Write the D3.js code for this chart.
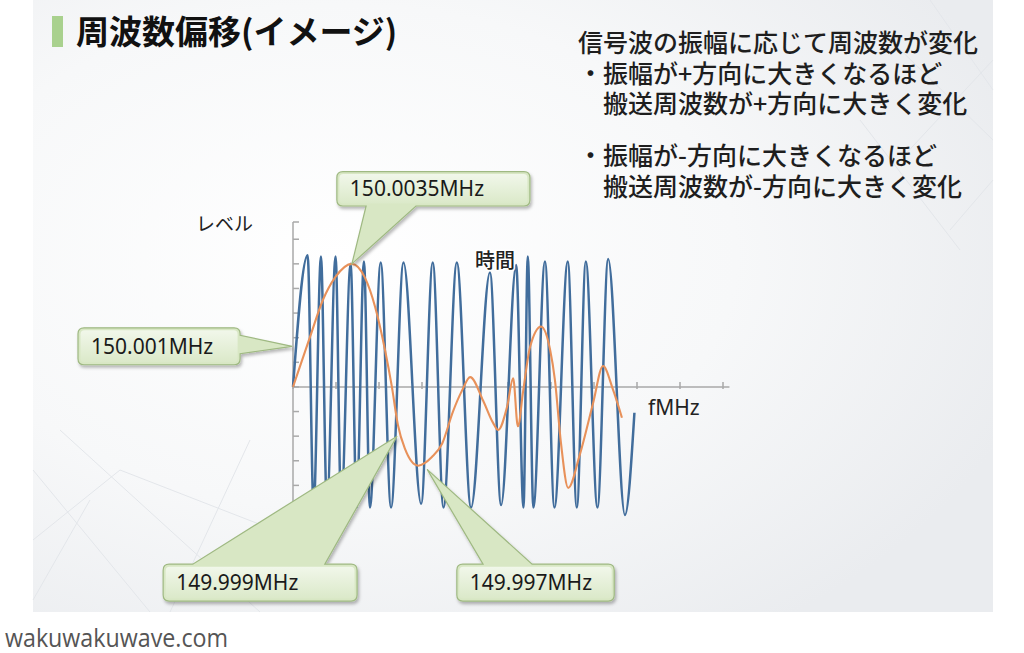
<!DOCTYPE html>
<html><head><meta charset="utf-8">
<script src="https://cdn.jsdelivr.net/npm/d3@7"></script>
<style>html,body{margin:0;padding:0;background:#fff;}svg{display:block}</style>
</head><body>
<svg id="c" width="1024" height="653"></svg>
<script>
// ---------- data ----------
const titleText = "周波数偏移(イメージ)";
const noteLines = [
  "信号波の振幅に応じて周波数が変化",
  "・振幅が+方向に大きくなるほど",
  "搬送周波数が+方向に大きく変化",
  "・振幅が-方向に大きくなるほど",
  "搬送周波数が-方向に大きく変化"
];
const yAxisTitle = "レベル";
const timeLabel = "時間";
const xAxisTitle = "fMHz";
const watermark = "wakuwakuwave.com";

// carrier (FM wave) extrema: time and level
const blueT = [0, 0.34, 0.48, 0.65, 0.79, 0.99, 1.12, 1.34, 1.48, 1.65, 1.79, 2.04, 2.28, 2.57, 2.98, 3.25,
               3.50, 3.81, 4.14, 4.58, 4.84, 5.19, 5.36, 5.46, 5.59, 5.86, 6.08, 6.39, 6.60, 6.81, 7.08, 7.33, 7.72, 7.94];
const blueV = [0, 1.07, -0.98, 1.06, -0.98, 1.06, -0.98, 1.00, -0.98, 1.02, -0.98, 1.01, -0.98, 1.01, -0.95, 1.01,
               -0.98, 1.01, -0.98, 0.93, -0.96, 0.99, -0.98, 1.06, -0.98, 1.02, -0.98, 1.02, -0.98, 1.02, -0.98, 1.04, -1.04, -0.21];

// modulating signal
const orangeT = [0, 0.40, 0.70, 0.98, 1.37, 1.67, 1.91, 2.14, 2.30, 2.44, 2.60, 2.91, 3.23, 3.47, 3.72, 3.93, 4.12,
                 4.42, 4.65, 4.77, 4.98, 5.12, 5.23, 5.35, 5.51, 5.77, 5.98, 6.09, 6.23, 6.40, 6.67, 6.98, 7.21, 7.44, 7.65];
const orangeV = [0, 0.41, 0.71, 0.89, 1.00, 0.89, 0.65, 0.30, 0.00, -0.31, -0.50, -0.64, -0.57, -0.46, -0.20, -0.03, 0.08,
                 -0.11, -0.29, -0.35, -0.16, 0.07, -0.32, -0.04, 0.32, 0.49, 0.30, 0.06, -0.45, -0.82, -0.55, -0.13, 0.17, -0.02, -0.25];

const xTicks = [0, 1, 2, 3, 4, 5, 6, 7, 8, 9, 10];
const yTicks = [-1, -0.8, -0.6, -0.4, -0.2, 0, 0.2, 0.4, 0.6, 0.8, 1.0, 1.2, 1.34];

const calloutLabels = ["150.0035MHz", "150.001MHz", "149.999MHz", "149.997MHz"];

// ---------- layout ----------
const svg = d3.select("#c");
const x = d3.scaleLinear().domain([0, 10]).range([293, 723]);
const y = d3.scaleLinear().domain([-1, 1.34]).range([510, 222]);

// callout geometry expressed in chart units
const calloutLayout = [
  {box:[1.02, 1.75, 5.51, 1.47], side:"bottom", base:[1.70, 2.86], tip:[1.37, 1.00], tx:13},
  {box:[-5.0, 0.48, -1.23, 0.18], side:"right", base:[0.42, 0.27], tip:[-0.02, 0.33], tx:13},
  {box:[-3.02, -1.44, 1.49, -1.74], side:"top", base:[-2.33, 0.74], tip:[2.42, -0.40], tx:13},
  {box:[3.81, -1.44, 7.47, -1.74], side:"top", base:[4.42, 5.56], tip:[3.12, -0.67], tx:13}
];

const defs = svg.append("defs");
const bg = defs.append("radialGradient").attr("id","bg").attr("cx","0.32").attr("cy","0.42").attr("r","0.75");
bg.append("stop").attr("offset","0").attr("stop-color","#ffffff");
bg.append("stop").attr("offset","0.55").attr("stop-color","#f7f8f9");
bg.append("stop").attr("offset","1").attr("stop-color","#eaecef");
const cg = defs.append("linearGradient").attr("id","cg").attr("x1",0).attr("y1",0).attr("x2",0).attr("y2",1);
cg.append("stop").attr("offset","0").attr("stop-color","#f1f7ea");
cg.append("stop").attr("offset","1").attr("stop-color","#dbe9c9");
const sh = defs.append("filter").attr("id","sh").attr("x","-20%").attr("y","-20%").attr("width","140%").attr("height","140%");
sh.append("feDropShadow").attr("dx",1.5).attr("dy",2.5).attr("stdDeviation",1.8).attr("flood-color","#000").attr("flood-opacity",0.28);

// slide background
svg.append("rect").attr("x",33).attr("y",0).attr("width",960).attr("height",612).attr("fill","url(#bg)");

// faint decorative lines
const deco = [
  [33,470,150,612],[60,430,260,612],[33,540,120,470],[120,470,300,540],[170,612,250,440],[33,600,90,500],
  [880,30,993,140],[930,0,993,90],[900,160,993,60],[950,230,993,180],[860,120,960,250]
];
svg.append("g").selectAll("line").data(deco).join("line")
  .attr("x1",d=>d[0]).attr("y1",d=>d[1]).attr("x2",d=>d[2]).attr("y2",d=>d[3])
  .attr("stroke","#e3e6ea").attr("stroke-width",1);

// title
svg.append("rect").attr("x",52).attr("y",16).attr("width",11).attr("height",31).attr("fill","#a9d18e");
svg.append("text").attr("x",76).attr("y",44).text(titleText)
  .attr("font-family","'Noto Sans CJK JP'").attr("font-weight",700).attr("font-size",33).attr("fill","#111");

// notes (one text block)
const noteX = [578, 578, 603, 578, 603];
const noteY = [52, 83, 113, 165, 196];
svg.append("text")
  .attr("font-family","'Noto Sans CJK JP'").attr("font-weight",500).attr("font-size",25).attr("fill","#1e1e1e")
  .selectAll("tspan").data(noteLines).join("tspan")
  .attr("x",(d,i)=>noteX[i]).attr("y",(d,i)=>noteY[i]).text(d=>d);

// axes
const ax = svg.append("g").attr("stroke","#a9a9a9").attr("stroke-width",1.5).attr("fill","none");
ax.append("line").attr("x1",x(0)).attr("x2",x(0)).attr("y1",y(-1)).attr("y2",y(1.34));
ax.selectAll(".yt").data(yTicks).join("line").attr("class","yt")
  .attr("x1",x(0)).attr("x2",x(0)+6).attr("y1",d=>y(d)).attr("y2",d=>y(d));
ax.append("line").attr("x1",x(0)).attr("x2",x(10.15)).attr("y1",y(0)).attr("y2",y(0));
ax.selectAll(".xt").data(xTicks).join("line").attr("class","xt")
  .attr("x1",d=>x(d)).attr("x2",d=>x(d)).attr("y1",y(0)-5).attr("y2",y(0)+2);

// series
const line = d3.line().x(d=>x(d[0])).y(d=>y(d[1])).curve(d3.curveMonotoneX);
svg.append("path").attr("d", line(blueT.map((t,i)=>[t,blueV[i]])))
  .attr("fill","none").attr("stroke","#416d9c").attr("stroke-width",2.5).attr("stroke-linejoin","round");
svg.append("path").attr("d", line(orangeT.map((t,i)=>[t,orangeV[i]])))
  .attr("fill","none").attr("stroke","#e8915a").attr("stroke-width",2.1).attr("stroke-linejoin","round");

// axis labels
svg.append("text").attr("x",196).attr("y",231).text(yAxisTitle)
  .attr("font-family","'Noto Sans CJK JP'").attr("font-size",19).attr("fill","#222");
svg.append("text").attr("x",475).attr("y",268).text(timeLabel)
  .attr("font-family","'Noto Sans CJK JP'").attr("font-weight",500).attr("font-size",20).attr("fill","#222")
  .attr("stroke","#fff").attr("stroke-width",3).attr("paint-order","stroke");
svg.append("text").attr("x",648).attr("y",415).text(xAxisTitle)
  .attr("font-family","'Noto Sans'").attr("font-size",21).attr("fill","#222");

// callouts
function calloutPath(x0,y0,x1,y1,r,side,a,b,tx,ty){
  const p = d3.path();
  p.moveTo(x0+r,y0);
  if(side==="top"){ p.lineTo(Math.min(a,b),y0); p.lineTo(tx,ty); p.lineTo(Math.max(a,b),y0); }
  p.lineTo(x1-r,y0); p.quadraticCurveTo(x1,y0,x1,y0+r);
  if(side==="right"){ p.lineTo(x1,Math.min(a,b)); p.lineTo(tx,ty); p.lineTo(x1,Math.max(a,b)); }
  p.lineTo(x1,y1-r); p.quadraticCurveTo(x1,y1,x1-r,y1);
  if(side==="bottom"){ p.lineTo(Math.max(a,b),y1); p.lineTo(tx,ty); p.lineTo(Math.min(a,b),y1); }
  p.lineTo(x0+r,y1); p.quadraticCurveTo(x0,y1,x0,y1-r);
  p.lineTo(x0,y0+r); p.quadraticCurveTo(x0,y0,x0+r,y0);
  p.closePath();
  return p.toString();
}
const cgrp = svg.append("g");
calloutLayout.forEach((c,i)=>{
  const x0=x(c.box[0]), y0=y(c.box[1]), x1=x(c.box[2]), y1=y(c.box[3]);
  const isH = c.side==="right";
  const a = isH ? y(c.base[0]) : x(c.base[0]);
  const b = isH ? y(c.base[1]) : x(c.base[1]);
  const g = cgrp.append("g");
  g.append("path").attr("d",calloutPath(x0,y0,x1,y1,6,c.side,a,b,x(c.tip[0]),y(c.tip[1])))
    .attr("fill","#d8e7c4").attr("stroke","#9fb982").attr("stroke-width",1.2).attr("filter","url(#sh)");
  g.append("rect").attr("x",x0+2.5).attr("y",y0+2.5).attr("width",x1-x0-5).attr("height",y1-y0-5).attr("rx",4)
    .attr("fill","url(#cg)");
  g.append("text").attr("x",x0+c.tx).attr("y",(y0+y1)/2+7.5).text(calloutLabels[i])
    .attr("font-family","'Noto Sans'").attr("font-size",21).attr("fill","#1a1a1a");
});

// watermark
svg.append("text").attr("x",5).attr("y",647).text(watermark)
  .attr("font-family","'Open Sans'").attr("font-size",25).attr("fill","#555")
  .attr("textLength",223).attr("lengthAdjust","spacingAndGlyphs");
</script>
</body></html>
